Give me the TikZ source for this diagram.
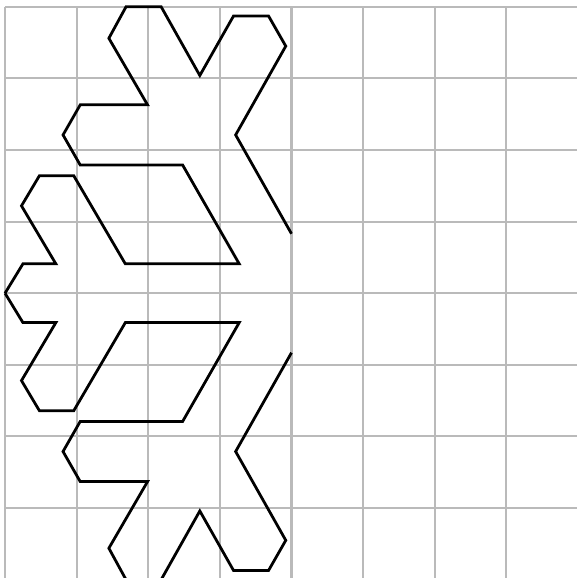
\documentclass[tikz,border=0pt]{standalone}
\usepackage{tikz}
\tikzset{sheet/.style = {draw=black!27, line width=.8pt}}
\tikzset{flake/.style = {line width=1.1pt, line join=miter}}

\begin{document}
\begin{tikzpicture}
  \useasboundingbox (-0.07,0.024) rectangle (7.975,8.094);
  \draw[sheet] (0,0) grid (8,8);
  \foreach \s in {1,-1}
    \draw[flake, shift={(0,4)}, yscale=\s]
    plot coordinates{(4,.83) (3.22,2.21) (3.92,3.45) (3.68,3.87) (3.19,3.87)
      (2.72,3.04) (2.18,4) (1.69,4) (1.45,3.56) (1.99,2.63) (1.05,2.63)
      (.81,2.21) (1.05,1.79) (2.48,1.79) (3.27,.41) (1.68,.41) (.96,1.64)
      (.48,1.64) (.23,1.22) (.71,.41) (.25,.41) (0,0)};
\end{tikzpicture}
\end{document}
